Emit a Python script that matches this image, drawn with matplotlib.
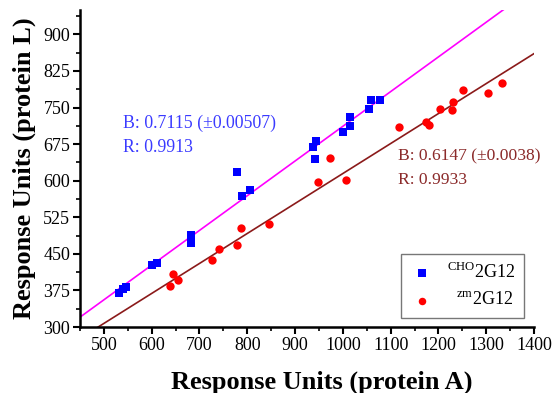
import matplotlib
matplotlib.use("Agg")
import matplotlib.pyplot as plt
import numpy as np
from matplotlib.ticker import MultipleLocator

plt.rcParams['font.family'] = ['Liberation Serif', 'DejaVu Serif']
plt.rcParams['mathtext.fontset'] = 'custom'
plt.rcParams['mathtext.rm'] = 'Liberation Serif'

# Data: CHO 2G12 (blue squares)
cho_x = [532, 540, 546, 600, 612, 683, 683, 778, 789, 805, 942, 938, 944, 1001, 1016, 1014, 1055, 1059, 1078]
cho_y = [370, 377, 383, 428, 432, 488, 472, 618, 568, 581, 644, 670, 682, 699, 713, 731, 746, 765, 765]
# Data: zm 2G12 (red circles)
zm_x = [638, 645, 656, 727, 741, 778, 787, 845, 948, 973, 1006, 1118, 1175, 1181, 1203, 1228, 1231, 1252, 1304, 1332]
zm_y = [384, 408, 397, 437, 460, 468, 502, 511, 598, 647, 601, 711, 721, 715, 747, 745, 762, 786, 780, 801]

cho_slope = 0.7115
zm_slope = 0.6147
fit_x = [450, 1400]

fig = plt.figure(figsize=(5.53, 3.93), dpi=100)
ax = fig.add_axes([80/553, 1-327/393, 454/553, 317/393])

ax.plot(fit_x, [cho_slope*v for v in fit_x], color='#ff00ff', lw=1.2, zorder=2)
ax.plot(fit_x, [zm_slope*v for v in fit_x], color='#8b1a1a', lw=1.2, zorder=2)
ax.scatter(cho_x, cho_y, marker='s', s=32, color='#0000ff', linewidths=0, zorder=3,
           label=r'$^{\mathrm{CHO}}$2G12')
ax.scatter(zm_x, zm_y, marker='o', s=36, color='#ff0000', linewidths=0, zorder=3,
           label=r'  $^{\mathrm{zm}}$2G12')

ax.set_xlim(450, 1400)
ax.set_ylim(300, 950)
ax.set_xticks(np.arange(500, 1401, 100))
ax.xaxis.set_minor_locator(MultipleLocator(50))
ax.set_yticks(np.arange(300, 901, 75))
ax.yaxis.set_minor_locator(MultipleLocator(37.5))

for s in ['top', 'right']:
    ax.spines[s].set_visible(False)
for s in ['left', 'bottom']:
    ax.spines[s].set_linewidth(1.8)
ax.tick_params(which='major', direction='out', length=5, width=1.5, labelsize=13, pad=2)
ax.tick_params(which='minor', direction='out', length=3, width=1.2)

ax.set_xlabel('Response Units (protein A)', fontsize=19, fontweight='bold', labelpad=12)
ax.xaxis.label.set_x(0.532)
ax.set_ylabel('Response Units (protein L)', fontsize=19, fontweight='bold', labelpad=5.5)

bc = '#3a3aff'
rc = '#8b2a2a'
ax.text(540, 718, 'B: 0.7115 (\u00b10.00507)', color=bc, fontsize=12.8, va='center', ha='left')
ax.text(540, 669, 'R: 0.9913', color=bc, fontsize=12.8, va='center', ha='left')
ax.text(1115, 650, 'B: 0.6147 (\u00b10.0038)', color=rc, fontsize=12.6, va='center', ha='left')
ax.text(1115, 601, 'R: 0.9933', color=rc, fontsize=12.6, va='center', ha='left')

leg = ax.legend(loc='center', bbox_to_anchor=(0.8425, 0.13), fontsize=13,
                frameon=True, fancybox=False, edgecolor='#555555', markerscale=0.9,
                handlelength=1.4, handletextpad=0.7, borderpad=0.47, labelspacing=0.55,
                borderaxespad=0.0)
leg.get_frame().set_linewidth(1.0)

fig.savefig('out.png', dpi=100)
